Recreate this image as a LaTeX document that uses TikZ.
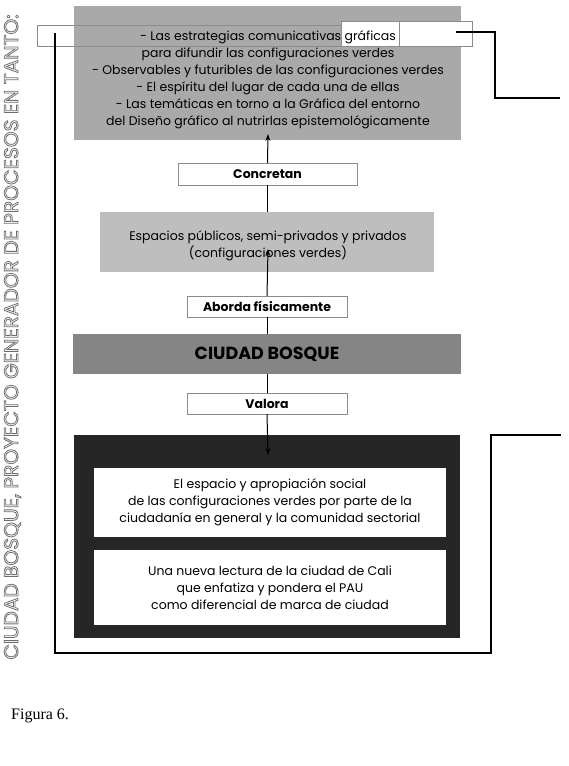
\documentclass[tikz,border=0pt]{standalone}
\usepackage{fontspec}
\setmainfont{Poppins}
\newfontfamily\figfont{Liberation Serif}
\usetikzlibrary{arrows.meta}
\definecolor{topgray}{HTML}{A9A9A9}
\definecolor{espgray}{HTML}{BEBEBE}
\definecolor{ciugray}{HTML}{858585}
\definecolor{darkfill}{HTML}{262626}
\definecolor{edgegray}{HTML}{8C8C8C}
\definecolor{outlinegray}{HTML}{6E6E6E}
\tikzset{
  blk/.style={inner sep=0pt, outer sep=0pt, anchor=north west, draw=none},
  labelbox/.style={blk, draw=edgegray, line width=0.7pt, fill=white},
  thinrect/.style={blk, draw=edgegray, line width=0.6pt},
  txt/.style={align=center, inner sep=0pt, font=\fontsize{12.5}{17}\selectfont},
  lbl/.style={inner sep=0pt, font=\bfseries\fontsize{12.5}{14}\selectfont},
  conn/.style={line width=1.3pt, black},
  arr/.style={line width=1pt, black, -{Stealth[length=7pt,width=5pt]}},
  lin/.style={line width=1pt, black}
}
\begin{document}
\begin{tikzpicture}[x=1pt,y=-1pt]
\useasboundingbox (0,0) rectangle (569,766);
% top box
\node[blk, fill=topgray, minimum width=387pt, minimum height=134pt] (top) at (74,6) {};
\node[thinrect, minimum width=435pt, minimum height=21pt] (band) at (37,25) {};
\node[labelbox, draw=edgegray, minimum width=131pt, minimum height=25pt] (wbox) at (341,21) {};
\node[labelbox, fill=none, minimum width=58pt, minimum height=25pt] (gbox) at (341,21) {};
\node[txt] (toptxt) at (268,79.5) {- Las estrategias comunicativas gráficas\\
para difundir las configuraciones verdes\\
- Observables y futuribles de las configuraciones verdes\\
- El espíritu del lugar de cada una de ellas\\
- Las temáticas en torno a la Gráfica del entorno\\
del Diseño gráfico al nutrirlas epistemológicamente};
% label boxes
\node[labelbox, minimum width=179pt, minimum height=22pt] (conc) at (178,163) {};
\node[lbl] at (conc.center) {Concretan};
\node[blk, fill=espgray, minimum width=334pt, minimum height=60pt] (esp) at (100,212) {};
\node[txt] (esptxt) at (268,245.5) {Espacios públicos, semi-privados y privados\\(configuraciones verdes)};
\node[labelbox, minimum width=160pt, minimum height=21pt] (abor) at (187,296) {};
\node[lbl] at (abor.center) {Aborda físicamente};
\node[blk, fill=ciugray, minimum width=388pt, minimum height=40pt] (ciu) at (73,334) {};
\node[inner sep=0pt, font=\bfseries\fontsize{17.5}{19}\selectfont] at (ciu.center) {CIUDAD BOSQUE};
\node[labelbox, minimum width=160pt, minimum height=21pt] (val) at (187,393) {};
\node[lbl] at (val.center) {Valora};
\node[blk, fill=darkfill, minimum width=386pt, minimum height=203pt] (dark) at (74,435) {};
\node[blk, fill=white, minimum width=352pt, minimum height=69pt] (in1) at (94,468) {};
\node[txt] at (in1.center) {El espacio y apropiación social\\
de las configuraciones verdes por parte de la\\
ciudadanía en general y la comunidad sectorial};
\node[blk, fill=white, minimum width=352pt, minimum height=75pt] (in2) at (94,550) {};
\node[txt] at (in2.center) {Una nueva lectura de la ciudad de Cali\\
que enfatiza y pondera el PAU\\
como diferencial de marca de ciudad};
% arrows
\coordinate (tip1) at (268,134);
\coordinate (tip2) at (268,249);
\coordinate (tip3) at (268,455);
\draw[arr] (conc.north) -- (tip1);
\draw[lin] (esp.north -| conc.south) -- (conc.south);
\draw[arr] (abor.north) -- (tip2);
\draw[lin] (ciu.north -| abor.south) -- (abor.south);
\draw[lin] (ciu.south -| val.north) -- (val.north);
\draw[arr] (val.south) -- (tip3);
% connectors
\coordinate (lstart) at (55,33);
\coordinate (lend) at (561,435);
\draw[conn] (lstart) |- (491,653) |- (lend);
\coordinate (rstart) at (456,32);
\coordinate (rend) at (560,98);
\draw[conn] (rstart) -- (495,32) |- (rend);
% side title
\node[rotate=90, inner sep=0pt, text=outlinegray] (side) at (12.5,337) {\resizebox{645pt}{14pt}{\special{pdf:literal direct 1 Tr 0.4 w}CIUDAD BOSQUE, PROYECTO GENERADOR DE PROCESOS EN TANTO:\special{pdf:literal direct 0 Tr}}};
\node[anchor=west, inner sep=0pt, font=\figfont\fontsize{16}{18}\selectfont] (fig) at (11,716) {Figura 6.};
\end{tikzpicture}
\end{document}
